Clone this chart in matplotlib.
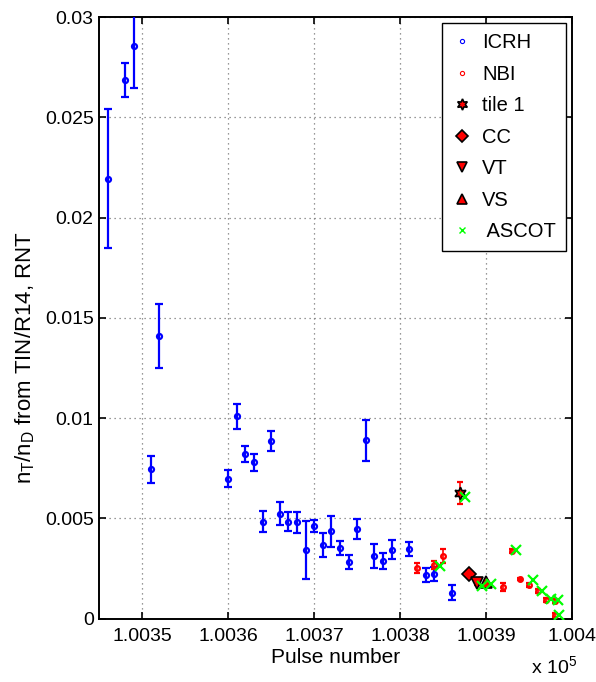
import matplotlib
matplotlib.use("Agg")
import matplotlib.pyplot as plt
from matplotlib.lines import Line2D

plt.rcParams['font.family'] = ['Liberation Sans', 'DejaVu Sans']

# ---------------- data ----------------
icrh_pulse = [100346, 100348, 100349, 100351, 100352, 100360, 100361, 100362, 100363,
              100364, 100365, 100366, 100367, 100368, 100369, 100370, 100371, 100372,
              100373, 100374, 100375, 100376, 100377, 100378, 100379, 100381, 100383,
              100384, 100386]
icrh_val = [0.02195, 0.02685, 0.02855, 0.00745, 0.0141, 0.00697, 0.0101, 0.00822, 0.00779,
            0.00484, 0.00885, 0.00522, 0.00484, 0.0048, 0.00341, 0.00461, 0.00368, 0.00436,
            0.0035, 0.00282, 0.00445, 0.0089, 0.00313, 0.00287, 0.00343, 0.00346, 0.00217,
            0.00222, 0.00129]
icrh_err = [0.00345, 0.00085, 0.0021, 0.00068, 0.0016, 0.00043, 0.00062, 0.0004, 0.00042,
            0.00052, 0.0005, 0.00057, 0.00047, 0.00052, 0.00145, 0.0003, 0.0006, 0.00077,
            0.00035, 0.00035, 0.0005, 0.00103, 0.0006, 0.0004, 0.00047, 0.00036, 0.00034,
            0.00037, 0.00037]

nbi_pulse = [100382, 100384, 100385, 100387, 100389, 100390, 100392, 100393, 100394,
             100395, 100396, 100397, 100398, 100398]
nbi_val = [0.0025, 0.00265, 0.00312, 0.00624, 0.00175, 0.0018, 0.00159, 0.00335, 0.00196,
           0.00167, 0.00136, 0.0009, 0.00086, 0.00017]
nbi_err = [0.00025, 0.0002, 0.00034, 0.00055, 0.00008, 0.00008, 0.0002, 0.0001, 0.00005,
           0.0001, 0.0001, 0.0001, 0.0001, 0.0001]

tile1_pulse, tile1_val = [100387], [0.00624]
cc_pulse, cc_val = [100388], [0.00222]
vt_pulse, vt_val = [100389], [0.00175]
vs_pulse, vs_val = [100390], [0.0018]

ascot_pulse = [100384.6, 100387.5, 100389.5, 100390.6, 100393.5, 100395.5, 100396.5,
               100397.5, 100398.4, 100398.5]
ascot_val = [0.00263, 0.00607, 0.00162, 0.0017, 0.00343, 0.0019, 0.00139, 0.00096,
             0.00092, 0.00017]

xtick_vals = [100350, 100360, 100370, 100380, 100390, 100400]
xtick_labels = ['1.0035', '1.0036', '1.0037', '1.0038', '1.0039', '1.004']
ytick_vals = [0, 0.005, 0.01, 0.015, 0.02, 0.025, 0.03]
ytick_labels = ['0', '0.005', '0.01', '0.015', '0.02', '0.025', '0.03']

# ---------------- figure ----------------
W, H = 596, 682
fig = plt.figure(figsize=(W / 100, H / 100), dpi=100)
left, right, top, bottom = 99.3, 572, 17.3, 618.5
ax = fig.add_axes([left / W, 1 - bottom / H, (right - left) / W, (bottom - top) / H])

FS = 14
FSL = 15
blue = (0, 0, 1)
red = (1, 0, 0)
green = (0, 1, 0)

ax.errorbar(icrh_pulse, icrh_val, yerr=icrh_err, fmt='o', color=blue, ms=3.6,
            mfc='none', mew=1.6, elinewidth=1.6, capsize=3, capthick=1.6, zorder=3)
ax.errorbar(nbi_pulse, nbi_val, yerr=nbi_err, fmt='o', color=red, ms=3.4,
            mfc='none', mew=1.6, elinewidth=1.2, capsize=2.5, capthick=1.2, zorder=3)

ax.plot(tile1_pulse, tile1_val, linestyle='none', marker=(6, 1, 0), ms=9,
        mfc=red, mec='k', mew=1.2, zorder=4)
ax.plot(cc_pulse, cc_val, linestyle='none', marker='D', ms=7, mfc=red, mec='k',
        mew=1.2, zorder=4)
ax.plot(vt_pulse, vt_val, linestyle='none', marker='v', ms=8, mfc=red, mec='k',
        mew=1.2, zorder=4)
ax.plot(vs_pulse, vs_val, linestyle='none', marker='^', ms=8, mfc=red, mec='k',
        mew=1.2, zorder=4)
ax.plot(ascot_pulse, ascot_val, linestyle='none', marker='x', ms=7, mec=green,
        mew=1.6, zorder=5)

ax.set_xlim(100345, 100400)
ax.set_ylim(0, 0.03)
ax.set_xticks(xtick_vals)
ax.set_xticklabels(xtick_labels)
ax.set_yticks(ytick_vals)
ax.set_yticklabels(ytick_labels)

ax.tick_params(direction='in', length=5, width=1.2, labelsize=FS, top=True, right=True)
ax.tick_params(axis='x', pad=7)
ax.tick_params(axis='y', pad=4)
for s in ax.spines.values():
    s.set_linewidth(1.4)
ax.grid(True, linestyle=(0, (1, 3)), color='#777777', linewidth=0.9)
ax.set_axisbelow(True)

ax.set_xlabel('Pulse number', fontsize=FSL, labelpad=2)
ax.set_ylabel(r'n$_\mathregular{T}$/n$_\mathregular{D}$ from TIN/R14, RNT', fontsize=16)
ax.yaxis.set_label_coords((37 - left) / (right - left), (bottom - 358) / (bottom - top))
fig.text(531 / W, 1 - 674 / H, r'x 10$^\mathregular{5}$', fontsize=FS, ha='left',
         va='baseline')

handles = [
    Line2D([], [], linestyle='none', marker='o', ms=3, mfc='none', mec=blue, mew=0.8),
    Line2D([], [], linestyle='none', marker='o', ms=3, mfc='none', mec=red, mew=0.8),
    Line2D([], [], linestyle='none', marker=(6, 1, 0), ms=8, mfc=red, mec='k', mew=1.2),
    Line2D([], [], linestyle='none', marker='D', ms=6, mfc=red, mec='k', mew=1.2),
    Line2D([], [], linestyle='none', marker='v', ms=7, mfc=red, mec='k', mew=1.2),
    Line2D([], [], linestyle='none', marker='^', ms=7, mfc=red, mec='k', mew=1.2),
    Line2D([], [], linestyle='none', marker='x', ms=5, mec=green, mew=1.0),
]
labels = ['ICRH', 'NBI', 'tile 1', 'CC', 'VT', 'VS', ' ASCOT']
leg = ax.legend(handles, labels, loc='upper right', fontsize=14.5, frameon=True,
                fancybox=False, framealpha=1, edgecolor='k', handlelength=1.0,
                handletextpad=0.5, borderpad=0.5, labelspacing=0.62,
                borderaxespad=0.3)
leg.get_frame().set_linewidth(1.0)

fig.savefig('out.png', dpi=100)
